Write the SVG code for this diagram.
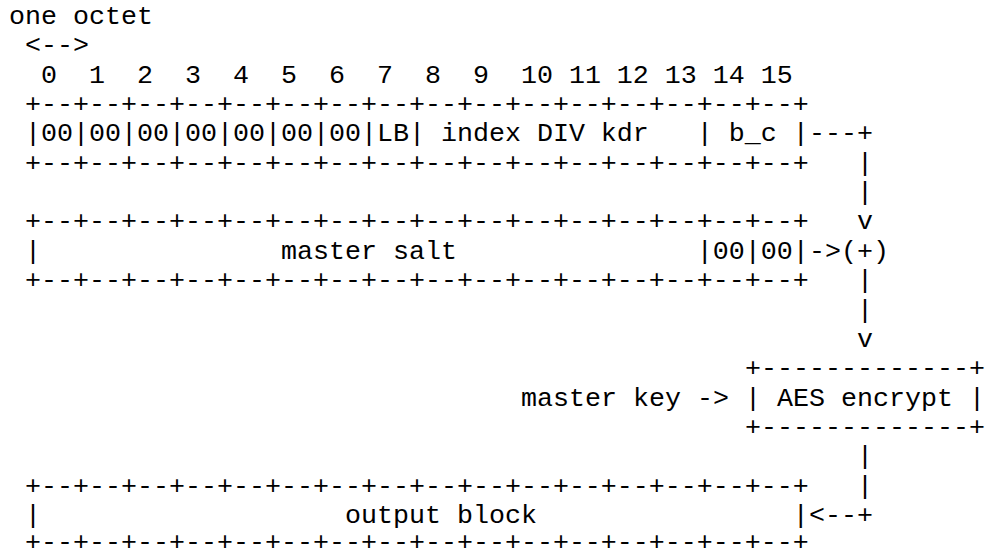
<svg xmlns="http://www.w3.org/2000/svg" width="986" height="557" viewBox="0 0 986 557">
<style>
  text { font-family: "Liberation Mono", "Courier New", monospace; font-size: 26.67px; fill: #000; white-space: pre; }
</style>
<rect x="0" y="0" width="986" height="557" fill="#fff"/>
<g id="labels">
  <text x="9" y="24" xml:space="preserve">one octet</text>
  <text x="25" y="53.35" xml:space="preserve">&lt;--&gt;</text>
  <text x="41" y="82.7" xml:space="preserve">0  1  2  3  4  5  6  7  8  9  10 11 12 13 14 15</text>
  <text x="521" y="405.55" xml:space="preserve">master key -&gt;</text>
</g>
<g id="header-block">
  <text x="25" y="112.05" xml:space="preserve">+--+--+--+--+--+--+--+--+--+--+--+--+--+--+--+--+</text>
  <text x="25" y="141.4" xml:space="preserve">|00|00|00|00|00|00|00|LB| index DIV kdr   | b_c |</text>
  <text x="25" y="170.75" xml:space="preserve">+--+--+--+--+--+--+--+--+--+--+--+--+--+--+--+--+</text>
</g>
<g id="master-salt">
  <text x="25" y="229.45" xml:space="preserve">+--+--+--+--+--+--+--+--+--+--+--+--+--+--+--+--+</text>
  <text x="25" y="258.8" xml:space="preserve">|               master salt               |00|00|</text>
  <text x="25" y="288.15" xml:space="preserve">+--+--+--+--+--+--+--+--+--+--+--+--+--+--+--+--+</text>
</g>
<g id="xor">
  <text x="841" y="258.8" xml:space="preserve">(+)</text>
</g>
<g id="aes-encrypt">
  <text x="745" y="376.2" xml:space="preserve">+-------------+</text>
  <text x="745" y="405.55" xml:space="preserve">| AES encrypt |</text>
  <text x="745" y="434.9" xml:space="preserve">+-------------+</text>
</g>
<g id="output-block">
  <text x="25" y="493.6" xml:space="preserve">+--+--+--+--+--+--+--+--+--+--+--+--+--+--+--+--+</text>
  <text x="25" y="522.95" xml:space="preserve">|                   output block                |</text>
  <text x="25" y="550" xml:space="preserve">+--+--+--+--+--+--+--+--+--+--+--+--+--+--+--+--+</text>
</g>
<g id="connectors">
  <text x="809" y="141.4" xml:space="preserve">---+</text>
  <text x="857" y="170.75" xml:space="preserve">|</text>
  <text x="857" y="200.1" xml:space="preserve">|</text>
  <text x="857" y="229.45" xml:space="preserve">v</text>
  <text x="809" y="258.8" xml:space="preserve">-&gt;</text>
  <text x="857" y="288.15" xml:space="preserve">|</text>
  <text x="857" y="317.5" xml:space="preserve">|</text>
  <text x="857" y="346.85" xml:space="preserve">v</text>
  <text x="857" y="464.25" xml:space="preserve">|</text>
  <text x="857" y="493.6" xml:space="preserve">|</text>
  <text x="809" y="522.95" xml:space="preserve">&lt;--+</text>
</g>
</svg>
